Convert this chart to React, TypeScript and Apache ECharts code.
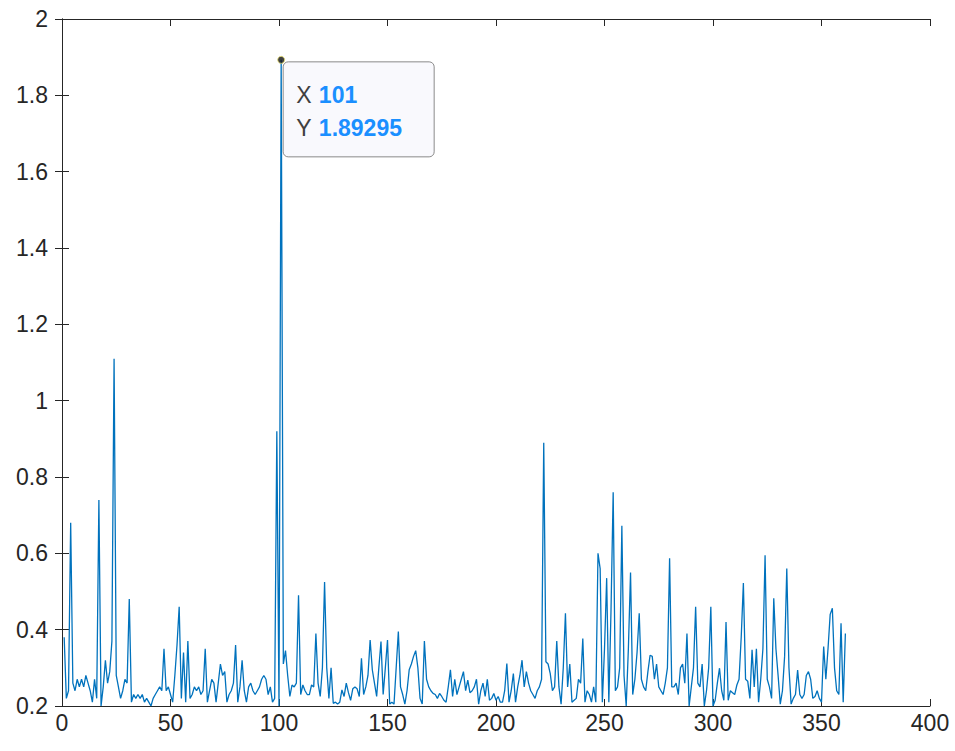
import React, { useEffect, useRef } from "react";
import * as echarts from "echarts";

// signal values, x = 1..361
const seg000 = [0.38, 0.22, 0.24, 0.68, 0.26, 0.24, 0.27, 0.25, 0.27, 0.25, 0.28, 0.26, 0.24, 0.21, 0.27, 0.22, 0.74, 0.2, 0.25, 0.32];
const seg020 = [0.26, 0.29, 0.37, 1.11, 0.28, 0.25, 0.22, 0.24, 0.27, 0.26, 0.48, 0.21, 0.23, 0.22, 0.23, 0.22, 0.23, 0.21, 0.22, 0.21];
const seg040 = [0.2, 0.22, 0.23, 0.24, 0.25, 0.24, 0.35, 0.24, 0.25, 0.23, 0.21, 0.28, 0.36, 0.46, 0.22, 0.34, 0.21, 0.37, 0.22, 0.23];
const seg060 = [0.25, 0.24, 0.25, 0.23, 0.24, 0.35, 0.21, 0.24, 0.27, 0.26, 0.21, 0.26, 0.31, 0.28, 0.29, 0.21, 0.23, 0.24, 0.26, 0.36];
const seg080 = [0.21, 0.25, 0.32, 0.24, 0.21, 0.25, 0.26, 0.24, 0.23, 0.24, 0.25, 0.27, 0.28, 0.27, 0.23, 0.25, 0.21, 0.22, 0.92, 0.2];
const seg100 = [1.89295, 0.31, 0.345, 0.28, 0.225, 0.255, 0.25, 0.26, 0.49, 0.23, 0.255, 0.24, 0.23, 0.23, 0.255, 0.25, 0.39, 0.26, 0.225, 0.3];
const seg120 = [0.525, 0.3, 0.22, 0.3, 0.207, 0.21, 0.205, 0.21, 0.242, 0.225, 0.26, 0.235, 0.215, 0.245, 0.25, 0.245, 0.225, 0.325, 0.23, 0.25];
const seg140 = [0.28, 0.373, 0.295, 0.26, 0.225, 0.3, 0.369, 0.23, 0.3, 0.373, 0.205, 0.21, 0.205, 0.3, 0.395, 0.25, 0.23, 0.205, 0.24, 0.295];
const seg160 = [0.31, 0.33, 0.345, 0.3, 0.22, 0.205, 0.37, 0.27, 0.25, 0.24, 0.233, 0.23, 0.22, 0.233, 0.225, 0.215, 0.21, 0.25, 0.295, 0.225];
const seg180 = [0.27, 0.23, 0.25, 0.27, 0.29, 0.24, 0.268, 0.235, 0.24, 0.25, 0.27, 0.205, 0.24, 0.26, 0.225, 0.27, 0.215, 0.22, 0.233, 0.215];
const seg200 = [0.225, 0.21, 0.21, 0.24, 0.311, 0.21, 0.24, 0.285, 0.21, 0.25, 0.28, 0.32, 0.25, 0.29, 0.26, 0.24, 0.23, 0.22, 0.24, 0.25];
const seg220 = [0.27, 0.89, 0.316, 0.31, 0.285, 0.24, 0.25, 0.37, 0.25, 0.205, 0.3, 0.443, 0.25, 0.31, 0.21, 0.215, 0.22, 0.27, 0.26, 0.377];
const seg240 = [0.21, 0.24, 0.23, 0.21, 0.25, 0.21, 0.6, 0.56, 0.21, 0.35, 0.535, 0.21, 0.45, 0.76, 0.24, 0.25, 0.3, 0.672, 0.28, 0.2];
const seg260 = [0.35, 0.55, 0.23, 0.27, 0.34, 0.443, 0.27, 0.25, 0.24, 0.29, 0.333, 0.33, 0.27, 0.31, 0.25, 0.24, 0.23, 0.26, 0.3, 0.587];
const seg280 = [0.25, 0.25, 0.26, 0.23, 0.3, 0.31, 0.26, 0.39, 0.2, 0.25, 0.3, 0.46, 0.26, 0.25, 0.31, 0.2, 0.24, 0.3, 0.46, 0.2];
const seg300 = [0.215, 0.26, 0.299, 0.24, 0.215, 0.42, 0.215, 0.24, 0.235, 0.23, 0.255, 0.27, 0.38, 0.522, 0.27, 0.265, 0.22, 0.347, 0.25, 0.35];
const seg320 = [0.21, 0.27, 0.35, 0.595, 0.27, 0.25, 0.22, 0.482, 0.35, 0.28, 0.205, 0.24, 0.33, 0.56, 0.3, 0.205, 0.22, 0.23, 0.294, 0.23];
const seg340 = [0.22, 0.23, 0.28, 0.29, 0.27, 0.22, 0.225, 0.24, 0.22, 0.21, 0.356, 0.27, 0.35, 0.44, 0.456, 0.3, 0.24, 0.23, 0.417, 0.21, 0.39];

const values = [
  ...seg000, ...seg020, ...seg040, ...seg060, ...seg080, ...seg100,
  ...seg120, ...seg140, ...seg160, ...seg180, ...seg200, ...seg220,
  ...seg240, ...seg260, ...seg280, ...seg300, ...seg320, ...seg340,
];

const xTicks = [0, 50, 100, 150, 200, 250, 300, 350, 400];
const yTicks = [0.2, 0.4, 0.6, 0.8, 1, 1.2, 1.4, 1.6, 1.8, 2];

const tipX = 101;
const tipY = 1.89295;

const FONT = "'Liberation Sans', Arial, Helvetica, sans-serif";
const AXIS = "#262626";

export default function App() {
  const ref = useRef<HTMLDivElement>(null);

  useEffect(() => {
    document.body.style.margin = "0";
    const chart = echarts.init(ref.current!, undefined, { renderer: "svg" });
    const data = values.map((v, i) => [i + 1, v]);

    const xMin = xTicks[0];
    const xMax = xTicks[xTicks.length - 1];
    const xInt = xTicks[1] - xTicks[0];
    const yMin = yTicks[0];
    const yMax = yTicks[yTicks.length - 1];
    const yInt = 0.2;

    const baseAxis = {
      type: "value" as const,
      axisLine: { show: true, lineStyle: { color: AXIS, width: 1 } },
      axisTick: { show: true, inside: true, length: 7, lineStyle: { color: AXIS, width: 1 } },
      splitLine: { show: false },
    };

    chart.setOption({
      animation: false,
      backgroundColor: "#ffffff",
      grid: { left: 62, right: 25, top: 19, bottom: 45, containLabel: false },
      xAxis: [
        {
          ...baseAxis,
          position: "bottom",
          min: xMin,
          max: xMax,
          interval: xInt,
          axisLabel: { color: AXIS, fontSize: 23, fontFamily: FONT, margin: 5 },
        },
        {
          ...baseAxis,
          position: "top",
          min: xMin,
          max: xMax,
          interval: xInt,
          axisLabel: { show: false },
        },
      ],
      yAxis: [
        {
          ...baseAxis,
          position: "left",
          min: yMin,
          max: yMax,
          interval: yInt,
          axisLabel: { color: AXIS, fontSize: 23, fontFamily: FONT, margin: 14 },
        },
        {
          ...baseAxis,
          position: "right",
          min: yMin,
          max: yMax,
          interval: yInt,
          axisLabel: { show: false },
        },
      ],
      series: [
        {
          type: "line",
          data,
          showSymbol: false,
          symbol: "none",
          lineStyle: { color: "#0072BD", width: 1.3 },
          clip: true,
          z: 2,
        },
        {
          type: "scatter",
          data: [[tipX, tipY]],
          symbol: "circle",
          symbolSize: 7,
          itemStyle: { color: "#111111", borderColor: "#e8e070", borderWidth: 1 },
          z: 5,
        },
      ],
    });

    const p = chart.convertToPixel({ gridIndex: 0 }, [tipX, tipY]) as number[];
    const bx = p[0] + 2;
    const by = p[1] + 2;
    chart.setOption({
      graphic: [
        {
          type: "rect",
          shape: { x: bx, y: by, width: 151, height: 95, r: 5 },
          style: { fill: "#f9f9fd", stroke: "#8a8a8a", lineWidth: 1 },
          z: 10,
        },
        {
          type: "text",
          x: bx + 13,
          y: by + 17,
          style: {
            text: "{l|X} {v|" + tipX + "}\n{l|Y} {v|" + tipY + "}",
            rich: {
              l: { fill: "#404040", fontSize: 23, fontFamily: FONT, lineHeight: 33, padding: [0, 4, 0, 0] },
              v: { fill: "#1a8fff", fontSize: 23, fontWeight: "bold", fontFamily: FONT, lineHeight: 33 },
            },
          },
          z: 11,
        },
      ],
    });

    return () => chart.dispose();
  }, []);

  return <div ref={ref} style={{ width: 955, height: 751 }} />;
}
